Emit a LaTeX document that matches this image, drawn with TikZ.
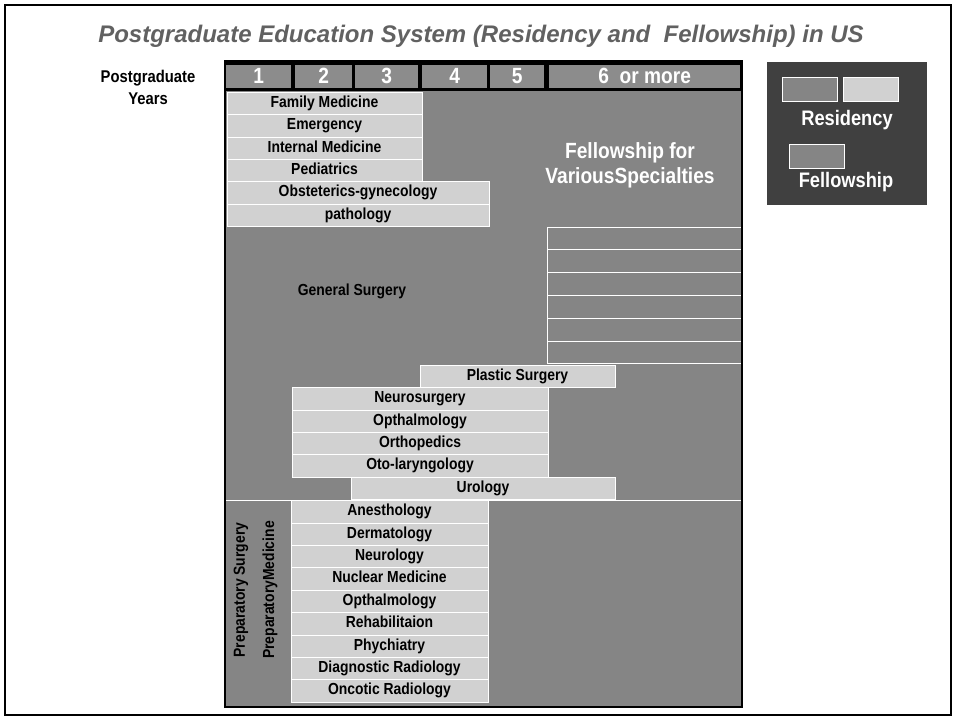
\documentclass[tikz,border=0pt]{standalone}
\usepackage{fontspec}
\setmainfont{Liberation Sans}[FakeStretch=0.87]
\newfontfamily\titlefont{Liberation Sans}
\usetikzlibrary{positioning}

\begin{document}
\begin{tikzpicture}[
        x=1pt, y=-1pt,
        node distance=0pt,
        resbox/.style={draw=white, line width=0.6pt, fill=black!18, minimum height=22.4pt, text height=11.5pt, text depth=3.5pt, inner sep=0pt, outer sep=0pt, font=\bfseries\fontsize{16}{18}\selectfont},
        yearcell/.style={fill=black!45, minimum height=23pt, text height=15pt, text depth=2pt, inner sep=0pt, anchor=north west, text=white, font=\bfseries\fontsize{22}{24}\selectfont},
        strip/.style={draw=white, line width=0.8pt, fill=black!48, minimum width=195pt, minimum height=22.8pt, inner sep=0pt, outer sep=0pt, anchor=north west},
        keybox/.style={draw=white, line width=1.2pt, minimum width=55pt, minimum height=24pt, inner sep=0pt, anchor=north west},
        spectext/.style={font=\bfseries\fontsize{16}{18}\selectfont, inner sep=0pt},
        whitetext/.style={text=white, align=center, font=\bfseries\fontsize{22}{25}\selectfont},
        sepline/.style={draw=white, line width=1pt}
    ]
    \useasboundingbox (0,0) rectangle (956,720);
    \draw[line width=1.5pt] (5,5) rectangle (951,715);

    \node[font=\titlefont\bfseries\itshape\fontsize{24}{28}\selectfont, text=black!62] (Title) at (481,36) {Postgraduate Education System (Residency and~ Fellowship) in US};
    \node[align=center, font=\bfseries\fontsize{17}{22}\selectfont] (YearsLabel) at (148,87) {Postgraduate\\Years};

    % chart background and year header
    \fill[black!48] (226,91) rectangle (742,706);
    \fill[black] (224,60) rectangle (743,91);
    \node[yearcell, minimum width=65pt] (Year1) at (226,65) {1};
    \node[yearcell, minimum width=57pt] (Year2) at (295,65) {2};
    \node[yearcell, minimum width=63pt] (Year3) at (355,65) {3};
    \node[yearcell, minimum width=65pt] (Year4) at (422,65) {4};
    \node[yearcell, minimum width=54pt] (Year5) at (490,65) {5};
    \node[yearcell, minimum width=191pt] (Year6) at (549,65) {6~ or more};

    % primary care residencies
    \node[resbox, minimum width=195pt, anchor=north west] (FamilyMed) at (227,92) {Family Medicine};
    \node[resbox, minimum width=195pt, below=of FamilyMed] (Emergency) {Emergency};
    \node[resbox, minimum width=195pt, below=of Emergency] (InternalMed) {Internal Medicine};
    \node[resbox, minimum width=195pt, below=of InternalMed] (Pediatrics) {Pediatrics};
    \node[resbox, minimum width=262pt, below=of Pediatrics.south west, anchor=north west] (ObGyn) {Obsteterics-gynecology};
    \node[resbox, minimum width=262pt, below=of ObGyn] (Pathology) {pathology};

    \node[whitetext] (FellowText) at (630,165) {Fellowship for\\VariousSpecialties};

    % surgical residencies
    \foreach \i in {0,...,5}
        \node[strip] (Strip\i) at (547,{227+22.8*\i}) {};
    \node[spectext] (GenSurgery) at (352,291) {General Surgery};

    \node[resbox, minimum width=195pt, anchor=north west] (Plastic) at (420,365) {Plastic Surgery};
    \node[resbox, minimum width=256pt, below=of Plastic.south west, anchor=north west, xshift=-128pt] (NeuroSurg) {Neurosurgery};
    \node[resbox, minimum width=256pt, below=of NeuroSurg] (Ophthal) {Opthalmology};
    \node[resbox, minimum width=256pt, below=of Ophthal] (Ortho) {Orthopedics};
    \node[resbox, minimum width=256pt, below=of Ortho] (OtoLaryn) {Oto-laryngology};
    \node[resbox, minimum width=264pt, below=of OtoLaryn.south west, anchor=north west, xshift=59pt] (Urology) {Urology};

    % residencies after a preparatory year
    \draw[sepline] (226,500) -- (742,500);
    \node[resbox, minimum width=197pt, anchor=north west] (Anesth) at (291,500.5) {Anesthology};
    \node[resbox, minimum width=197pt, below=of Anesth] (Derma) {Dermatology};
    \node[resbox, minimum width=197pt, below=of Derma] (Neuro) {Neurology};
    \node[resbox, minimum width=197pt, below=of Neuro] (NuclearMed) {Nuclear Medicine};
    \node[resbox, minimum width=197pt, below=of NuclearMed] (Ophthal2) {Opthalmology};
    \node[resbox, minimum width=197pt, below=of Ophthal2] (Rehab) {Rehabilitaion};
    \node[resbox, minimum width=197pt, below=of Rehab] (Psych) {Phychiatry};
    \node[resbox, minimum width=197pt, below=of Psych] (DiagRad) {Diagnostic Radiology};
    \node[resbox, minimum width=197pt, below=of DiagRad] (OncRad) {Oncotic Radiology};

    \node[spectext, rotate=90] (PrepSurgery) at (241,590) {Preparatory Surgery};
    \node[spectext, rotate=90] (PrepMedicine) at (270,590) {PreparatoryMedicine};

    \draw[line width=2.5pt] (225,61) rectangle (742,707);

    % legend
    \node[fill=black!75, minimum width=160pt, minimum height=143pt, anchor=north west, inner sep=0pt] (Legend) at (767,62) {};
    \node[keybox, fill=black!48] (KeyResDark) at (782,77) {};
    \node[keybox, fill=black!18, right=5pt of KeyResDark] (KeyResLight) {};
    \node[whitetext, font=\bfseries\fontsize{21}{23}\selectfont] (KeyResText) at (847,120) {Residency};
    \node[keybox, fill=black!48] (KeyFellow) at (789,144) {};
    \node[whitetext, font=\bfseries\fontsize{21}{23}\selectfont] (KeyFellowText) at (846,182) {Fellowship};

\end{tikzpicture}
\end{document}
